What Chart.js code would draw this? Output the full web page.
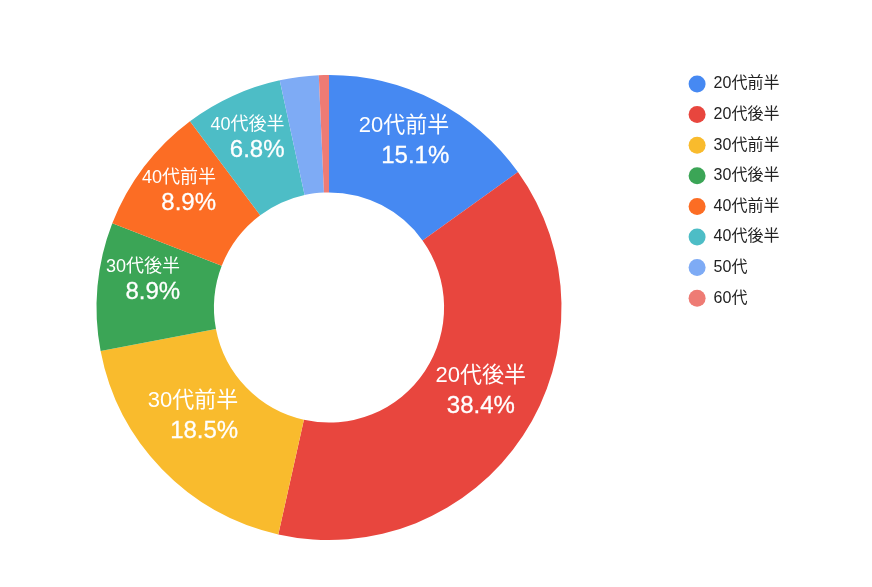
<!DOCTYPE html>
<html>
<head>
<meta charset="utf-8">
<script src="https://cdn.jsdelivr.net/npm/chart.js@4.4.1/dist/chart.umd.min.js"></script>
<style>
  html, body { margin: 0; padding: 0; background: #fff; overflow: hidden; }
  #wrap { position: absolute; left: -17px; top: 0; width: 889px; height: 587px; }
</style>
</head>
<body>
<div id="wrap"><canvas id="ageChart"></canvas></div>
<script>
var ageLabels = ['20代前半', '20代後半', '30代前半', '30代後半', '40代前半', '40代後半', '50代', '60代'];
var ageShares = [15.1, 38.4, 18.5, 8.9, 8.9, 6.8, 2.7, 0.7];
var sliceColors = ['#4689F2', '#E8463E', '#F9BB2D', '#3BA556', '#FC6D24', '#4DBDC6', '#7EABF5', '#EE7B74'];

var fontFamily = '"Liberation Sans", "Noto Sans CJK JP", Arial, sans-serif';

// labels inside the slices (name + percentage)
var sliceLabels = {
    id: 'sliceLabels',
    afterDatasetsDraw: function (chart) {
        var ctx = chart.ctx;
        var meta = chart.getDatasetMeta(0);
        ctx.save();
        ctx.fillStyle = '#fff';
        ctx.strokeStyle = '#fff';
        ctx.textBaseline = 'middle';
        meta.data.forEach(function (arc, i) {
            var v = ageShares[i];
            if (v < 5) return;
            var big = v >= 10;
            var mid = (arc.startAngle + arc.endAngle) / 2;
            var r = arc.innerRadius + (arc.outerRadius - arc.innerRadius) * 0.55;
            var x = arc.x + Math.cos(mid) * r;
            var y = arc.y + Math.sin(mid) * r * 0.965 - 12;
            var gap = big ? 31 : 25;
            var nameFont = (big ? 22 : 18) + 'px ' + fontFamily;
            var pctFont = '24px ' + fontFamily;
            var pct = v.toFixed(1) + '%';

            ctx.font = nameFont;
            var wName = ctx.measureText(ageLabels[i]).width;
            ctx.font = pctFont;
            var wPct = ctx.measureText(pct).width;
            var w = Math.max(wName, wPct);

            // right-align the two lines, except for slices pointing to the right
            var tx, align;
            if (Math.cos(mid) > 0.5) { tx = x + 2; align = 'center'; }
            else { tx = x - 7 + w / 2; align = 'right'; }
            ctx.textAlign = align;

            ctx.font = nameFont;
            ctx.fillText(ageLabels[i], tx, y - gap / 2);
            ctx.font = pctFont;
            ctx.lineWidth = 0.3;
            ctx.fillText(pct, tx, y + gap / 2);
            ctx.strokeText(pct, tx, y + gap / 2);
        });
        ctx.restore();
    }
};

const ctx = document.getElementById('ageChart').getContext('2d');
new Chart(ctx, {
    type: 'doughnut',
    data: {
        labels: ageLabels,
        datasets: [{
            data: ageShares,
            backgroundColor: sliceColors,
            borderWidth: 0,
            hoverOffset: 0
        }]
    },
    options: {
        responsive: true,
        maintainAspectRatio: false,
        animation: false,
        radius: 232.5,
        cutout: '49.5%',
        layout: {
            padding: { left: 0, right: 85, top: 61.9, bottom: 33.9 }
        },
        plugins: {
            tooltip: { enabled: false },
            legend: {
                position: 'right',
                align: 'start',
                maxWidth: 112,
                labels: {
                    boxWidth: 17,
                    boxHeight: 17,
                    useBorderRadius: true,
                    borderRadius: 8.5,
                    padding: 13.6,
                    color: '#222',
                    font: { family: fontFamily, size: 16 }
                }
            }
        }
    },
    plugins: [sliceLabels]
});
</script>
</body>
</html>
